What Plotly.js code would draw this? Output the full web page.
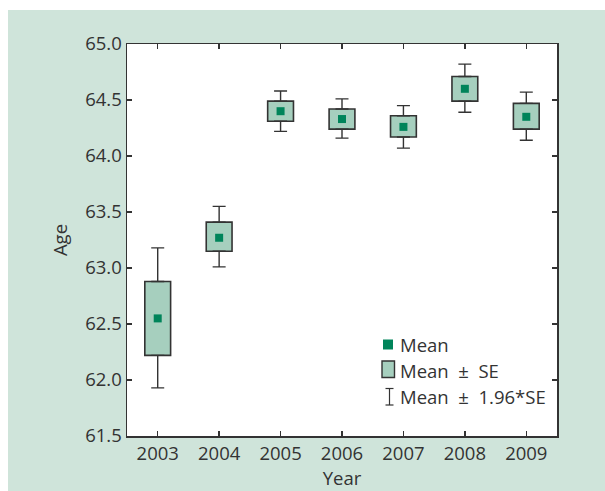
<!DOCTYPE html>
<html>
<head>
<meta charset="utf-8">
<script src="https://cdn.plot.ly/plotly-3.0.1.min.js"></script>
<style>html,body{margin:0;padding:0;background:#fff;}#chart{width:605px;height:491px;}</style>
</head>
<body>
<div id="chart"></div>
<script>
// Data
var years = [2003, 2004, 2005, 2006, 2007, 2008, 2009];
var meanAge = [62.55, 63.27, 64.40, 64.33, 64.26, 64.60, 64.35];
var seLow   = [62.22, 63.15, 64.31, 64.24, 64.17, 64.49, 64.24];
var seHigh  = [62.88, 63.41, 64.49, 64.42, 64.36, 64.71, 64.47];
var ciLow   = [61.93, 63.01, 64.22, 64.16, 64.07, 64.39, 64.14];
var ciHigh  = [63.18, 63.55, 64.58, 64.51, 64.45, 64.82, 64.57];
var yTicks  = [61.5, 62.0, 62.5, 63.0, 63.5, 64.0, 64.5, 65.0];
var legendLabels = ['Mean', 'Mean \u00A0\u00B1\u00A0 SE', 'Mean \u00A0\u00B1\u00A0 1.96*SE'];

var W = 605, H = 491;
var M = {l: 127, r: 48, t: 44, b: 55};
var PW = W - M.l - M.r, PH = H - M.t - M.b;
function px(x) { return (x - M.l) / PW; }
function py(y) { return (M.t + PH - y) / PH; }

var ink = '#333333';
var green = '#cfe4da';
var boxFill = '#a6cfbe';
var meanCol = '#00845a';
var font = 'Open Sans, Noto Sans, sans-serif';
var fs = 18.5;

var boxTrace = {
  type: 'bar', x: years,
  base: seLow,
  y: seHigh.map(function (v, i) { return v - seLow[i]; }),
  width: 0.42,
  marker: {color: boxFill, line: {color: ink, width: 1.6}},
  showlegend: false, hoverinfo: 'skip'
};
var upperWhisker = {
  type: 'scatter', mode: 'markers', x: years, y: seHigh,
  marker: {size: 1, opacity: 0},
  error_y: {type: 'data', symmetric: false,
    array: ciHigh.map(function (v, i) { return v - seHigh[i]; }),
    arrayminus: seHigh.map(function () { return 0; }),
    color: ink, thickness: 1.4, width: 6.5},
  showlegend: false, hoverinfo: 'skip'
};
var lowerWhisker = {
  type: 'scatter', mode: 'markers', x: years, y: seLow,
  marker: {size: 1, opacity: 0},
  error_y: {type: 'data', symmetric: false,
    array: seLow.map(function () { return 0; }),
    arrayminus: seLow.map(function (v, i) { return v - ciLow[i]; }),
    color: ink, thickness: 1.4, width: 6.5},
  showlegend: false, hoverinfo: 'skip'
};
var meanTrace = {
  type: 'scatter', mode: 'markers', x: years, y: meanAge,
  marker: {symbol: 'square', size: 8, color: meanCol, line: {width: 0}},
  showlegend: false, hoverinfo: 'skip'
};

// white strips outside the green panel
var shapes = [
  {type: 'rect', xref: 'paper', yref: 'paper', x0: px(-5), x1: px(W + 5), y0: py(10), y1: py(-5),
   fillcolor: '#ffffff', line: {width: 0}, layer: 'below'},
  {type: 'rect', xref: 'paper', yref: 'paper', x0: px(-5), x1: px(8), y0: py(H + 5), y1: py(-5),
   fillcolor: '#ffffff', line: {width: 0}, layer: 'below'},
  // legend icons
  {type: 'rect', xref: 'paper', yref: 'paper', x0: px(383), x1: px(393), y0: py(349.5), y1: py(339.5),
   fillcolor: meanCol, line: {width: 0}},
  {type: 'rect', xref: 'paper', yref: 'paper', x0: px(382), x1: px(394.5), y0: py(377.5), y1: py(361),
   fillcolor: boxFill, line: {color: ink, width: 1.4}},
  {type: 'line', xref: 'paper', yref: 'paper', x0: px(389.5), x1: px(389.5), y0: py(405), y1: py(388.5),
   line: {color: ink, width: 1.2}},
  {type: 'line', xref: 'paper', yref: 'paper', x0: px(385.5), x1: px(393.5), y0: py(388.5), y1: py(388.5),
   line: {color: ink, width: 1.2}},
  {type: 'line', xref: 'paper', yref: 'paper', x0: px(385.5), x1: px(393.5), y0: py(405), y1: py(405),
   line: {color: ink, width: 1.2}}
];

var legendY = [344.5, 370.5, 396.5];
var annotations = legendLabels.map(function (t, i) {
  return {xref: 'paper', yref: 'paper', x: px(398), y: py(legendY[i]), xanchor: 'left', yanchor: 'middle',
          text: t, showarrow: false, font: {family: font, size: fs, color: ink}};
});

var layout = {
  width: W, height: H,
  margin: M,
  paper_bgcolor: green,
  plot_bgcolor: '#ffffff',
  font: {family: font, size: fs, color: ink},
  showlegend: false,
  hovermode: false,
  xaxis: {
    range: [2002.5, 2009.5], tickvals: years, ticktext: years.map(String),
    ticks: 'inside', ticklen: 5, tickwidth: 1.3, tickcolor: ink,
    showline: true, linecolor: ink, linewidth: 1.5, mirror: 'ticks',
    showgrid: false, zeroline: false,
    tickfont: {family: font, size: fs, color: ink},
    title: {text: 'Year', font: {family: font, size: fs, color: ink}, standoff: 7}
  },
  yaxis: {
    range: [61.5, 65.0], tickvals: yTicks, ticktext: yTicks.map(function (v) { return v.toFixed(1); }),
    ticks: 'inside', ticklen: 5, tickwidth: 1.3, tickcolor: ink,
    showline: true, linecolor: ink, linewidth: 1.5, mirror: 'ticks',
    showgrid: false, zeroline: false,
    tickfont: {family: font, size: fs, color: ink},
    title: {text: 'Age', font: {family: font, size: fs, color: ink}, standoff: 12}
  },
  shapes: shapes,
  annotations: annotations,
  bargap: 0
};

Plotly.newPlot('chart', [boxTrace, upperWhisker, lowerWhisker, meanTrace], layout, {staticPlot: true, displayModeBar: false});
</script>
</body>
</html>
